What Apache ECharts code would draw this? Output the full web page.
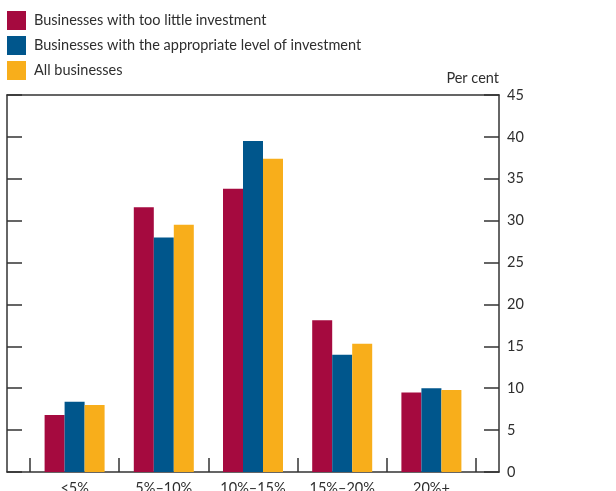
<!DOCTYPE html>
<html>
<head>
<meta charset="utf-8">
<script src="https://cdn.jsdelivr.net/npm/echarts@6/dist/echarts.min.js"></script>
<style>
  html, body { margin: 0; padding: 0; background: #fff; }
  #main { width: 616px; height: 491px; }
</style>
</head>
<body>
<div id="main"></div>
<script>
// values
const categories = ['<5%', '5%\u201310%', '10%\u201315%', '15%\u201320%', '20%+'];
const tooLittle = [6.8, 31.6, 33.8, 18.1, 9.5];
const appropriate = [8.4, 28.0, 39.5, 14.0, 10.0];
const allBusinesses = [8.0, 29.5, 37.4, 15.3, 9.8];
const seriesNames = [
  'Businesses with too little investment',
  'Businesses with the appropriate level of investment',
  'All businesses'
];
const colors = ['#a50a3f', '#00568c', '#f8ae1b'];

const FONT = 'Lato';
const TEXT = '#2e2e2e';
const LINE = { color: '#333', width: 1.5 };

const chart = echarts.init(document.getElementById('main'), null, { renderer: 'canvas' });

const barSeries = (name, data, i) => ({
  name: name,
  type: 'bar',
  xAxisIndex: 2,
  yAxisIndex: 2,
  data: data,
  barWidth: 20,
  barGap: '0%',
  itemStyle: { color: colors[i] }
});

// plain line axis used to draw one side of the frame
const frameX = (pos) => ({
  gridIndex: 0, type: 'value', min: 0, max: 1, position: pos,
  axisLine: { show: true, onZero: false, lineStyle: LINE },
  axisTick: { show: false }, axisLabel: { show: false }, splitLine: { show: false }
});

chart.setOption({
  animation: false,
  textStyle: { fontFamily: FONT },
  legend: {
    orient: 'vertical',
    left: 7,
    top: 11,
    padding: 0,
    itemWidth: 19,
    itemHeight: 19,
    itemGap: 6,
    icon: 'rect',
    selectedMode: false,
    textStyle: { fontFamily: FONT, fontSize: 14.5, color: TEXT, padding: [0, 0, 0, 3] },
    data: seriesNames
  },
  grid: [
    { left: 7, right: 117, top: 95, bottom: 19, outerBoundsMode: 'none' },
    { left: 30, right: 140, top: 95, bottom: 19, outerBoundsMode: 'none' }
  ],
  xAxis: [
    frameX('bottom'),
    frameX('top'),
    { gridIndex: 1, type: 'category', data: categories, position: 'bottom',
      axisLine: { show: false, onZero: false },
      axisTick: { show: true, inside: true, length: 14, lineStyle: LINE },
      axisLabel: { fontFamily: FONT, fontSize: 14.5, color: TEXT, margin: 9 },
      splitLine: { show: false } }
  ],
  yAxis: [
    { gridIndex: 0, type: 'value', min: 0, max: 45, interval: 5, position: 'right',
      name: 'Per cent', nameLocation: 'end', nameGap: 9,
      nameTextStyle: { fontFamily: FONT, fontSize: 14.5, color: TEXT, align: 'right', verticalAlign: 'bottom' },
      axisLine: { show: true, onZero: false, lineStyle: LINE },
      axisTick: { show: true, inside: true, length: 15, lineStyle: LINE },
      axisLabel: { fontFamily: FONT, fontSize: 14.5, color: TEXT, margin: 8 },
      splitLine: { show: false } },
    { gridIndex: 0, type: 'value', min: 0, max: 45, interval: 5, position: 'left',
      axisLine: { show: true, onZero: false, lineStyle: LINE },
      axisTick: { show: true, inside: true, length: 15, lineStyle: LINE },
      axisLabel: { show: false }, splitLine: { show: false } },
    { gridIndex: 1, type: 'value', min: 0, max: 45, interval: 5, show: false }
  ],
  series: [
    barSeries(seriesNames[0], tooLittle, 0),
    barSeries(seriesNames[1], appropriate, 1),
    barSeries(seriesNames[2], allBusinesses, 2)
  ]
});
</script>
</body>
</html>
